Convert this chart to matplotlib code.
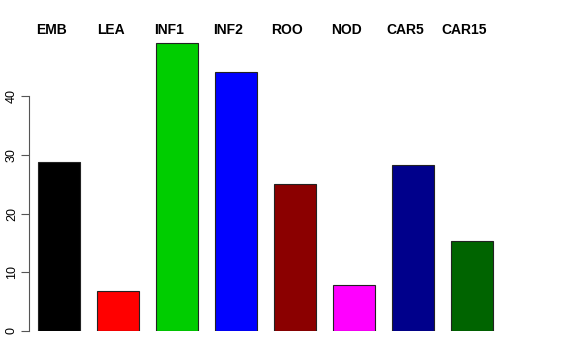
import numpy as np
import matplotlib.pyplot as plt

labels = ["EMB", "LEA", "INF1", "INF2", "ROO", "NOD", "CAR5", "CAR15"]
values = [28.9, 6.8, 49.1, 44.1, 25.0, 7.85, 28.3, 15.3]
colors = ["#000000", "#FF0000", "#00CD00", "#0000FF",
          "#8B0000", "#FF00FF", "#00008B", "#006400"]

plt.rcParams['font.family'] = ['Liberation Sans', 'DejaVu Sans']

fig = plt.figure(figsize=(5.76, 3.6), dpi=100)
# axes placed in pixels to match the R barplot layout
ax = fig.add_axes([29 / 576, 29 / 360, (511 - 29) / 576, 299 / 360])

# R barplot with space=0.4, width=1
x = 0.9 + 1.4 * np.arange(len(values))
ax.bar(x, values, width=1.0, color=colors, edgecolor="#222222", linewidth=0.8)

ax.set_xlim(0.186, 11.624)
ax.set_ylim(0, 51)

for xi, lab in zip(x, labels):
    ax.text(xi - 0.18, 50.6, lab, ha="center", va="baseline",
            fontsize=10, fontweight="bold", clip_on=False)

for s in ["top", "right", "bottom"]:
    ax.spines[s].set_visible(False)
ax.spines["left"].set_bounds(0, 40)
ax.spines["left"].set_color("#555555")
ax.set_xticks([])
ax.set_yticks([0, 10, 20, 30, 40])
ax.tick_params(axis="y", length=6, width=0.8, color="#555555",
               labelsize=9, labelrotation=90, pad=2)
for t in ax.get_yticklabels():
    t.set_va("center")

fig.savefig("out.png", dpi=100)
